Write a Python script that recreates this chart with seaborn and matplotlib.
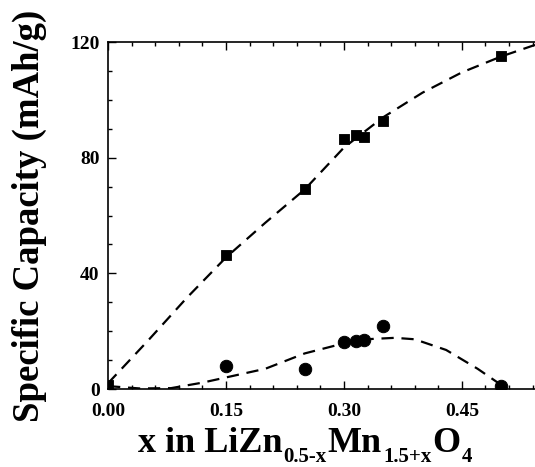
import numpy as np
import pandas as pd
import seaborn as sns
import matplotlib.pyplot as plt
from matplotlib.ticker import MultipleLocator

# measured points
x_sq = [0.0, 0.15, 0.25, 0.30, 0.315, 0.325, 0.35, 0.50]
cap_sq = [1.5, 46.5, 69.0, 86.3, 88.0, 87.2, 92.8, 115.3]
x_ci = [0.15, 0.25, 0.30, 0.315, 0.325, 0.35, 0.50]
cap_ci = [8.0, 6.8, 16.2, 16.5, 17.0, 21.7, 1.0]

# dashed guide curves
x_fit_hi = [0.0, 0.05, 0.10, 0.15, 0.20, 0.25, 0.30, 0.35, 0.40, 0.45, 0.50, 0.543]
cap_fit_hi = [2.0, 16.5, 31.5, 45.5, 57.5, 69.0, 83.5, 94.0, 102.5, 109.5, 115.0, 119.0]
x_fit_lo = [0.0, 0.04, 0.08, 0.12, 0.15, 0.20, 0.25, 0.30, 0.335, 0.365, 0.39, 0.43, 0.47, 0.50, 0.505]
cap_fit_lo = [1.0, 0.2, 0.3, 2.2, 4.0, 7.0, 12.3, 15.8, 17.3, 17.7, 17.2, 13.5, 7.0, 1.4, 0.4]

# x label pieces: (text, is_subscript)
xlabel_parts = [("x in LiZn", False), ("0.5-x", True), ("Mn", False),
                ("1.5+x", True), ("O", False), ("4", True)]

sns.set_style("ticks")
plt.rcParams['font.family'] = ['Liberation Serif', 'DejaVu Serif']
plt.rcParams['font.weight'] = 'bold'
for k in ['text.color', 'axes.labelcolor', 'xtick.color', 'ytick.color', 'axes.edgecolor']:
    plt.rcParams[k] = 'black'

fig = plt.figure(figsize=(5.35, 4.67), dpi=100)
ax = fig.add_axes([0.202, 0.167, 0.798, 0.743])

sns.lineplot(x=x_fit_hi, y=cap_fit_hi, ax=ax, color='black', lw=1.6,
             linestyle=(0, (5.5, 3.5)), sort=False)
sns.lineplot(x=x_fit_lo, y=cap_fit_lo, ax=ax, color='black', lw=1.6,
             linestyle=(0, (5.5, 3.5)), sort=False)
sns.scatterplot(x=x_sq, y=cap_sq, ax=ax, marker='s', s=60, color='black',
                edgecolor='black', zorder=5)
sns.scatterplot(x=x_ci, y=cap_ci, ax=ax, marker='o', s=80, color='black',
                edgecolor='black', zorder=5)

ax.set_xlim(0, 0.543)
ax.set_ylim(0, 120)
ax.xaxis.set_major_locator(MultipleLocator(0.15))
ax.xaxis.set_minor_locator(MultipleLocator(0.03))
ax.yaxis.set_major_locator(MultipleLocator(40))
ax.yaxis.set_minor_locator(MultipleLocator(10))
ax.xaxis.set_major_formatter(plt.FuncFormatter(lambda v, p: f"{v:.2f}"))
ax.tick_params(which='both', direction='in', top=True, right=False, width=1)
ax.tick_params(which='major', length=6, labelsize=14)
ax.tick_params(axis='x', which='major', pad=10)
ax.tick_params(axis='y', which='major', pad=6)
ax.tick_params(which='minor', length=3)
for lab in ax.get_xticklabels() + ax.get_yticklabels():
    lab.set_fontweight('bold')
ax.spines['right'].set_visible(False)
for s in ['left', 'bottom', 'top']:
    ax.spines[s].set_linewidth(1.2)

ax.set_ylabel("Specific Capacity (mAh/g)", fontsize=26.5, fontweight='bold')
ax.yaxis.set_label_coords(-0.143, 0.5)

# x label built from pieces so the subscripts sit low and small
renderer = fig.canvas.get_renderer()
x0 = 138
for txt, sub in xlabel_parts:
    size = 15 if sub else 26
    y_px = 5 if sub else 15
    t = fig.text(x0 / 535, y_px / 467, txt, fontsize=size, fontweight='bold',
                 ha='left', va='baseline')
    bb = t.get_window_extent(renderer)
    x0 = bb.x1 + 1

fig.savefig("out.png", dpi=100)
